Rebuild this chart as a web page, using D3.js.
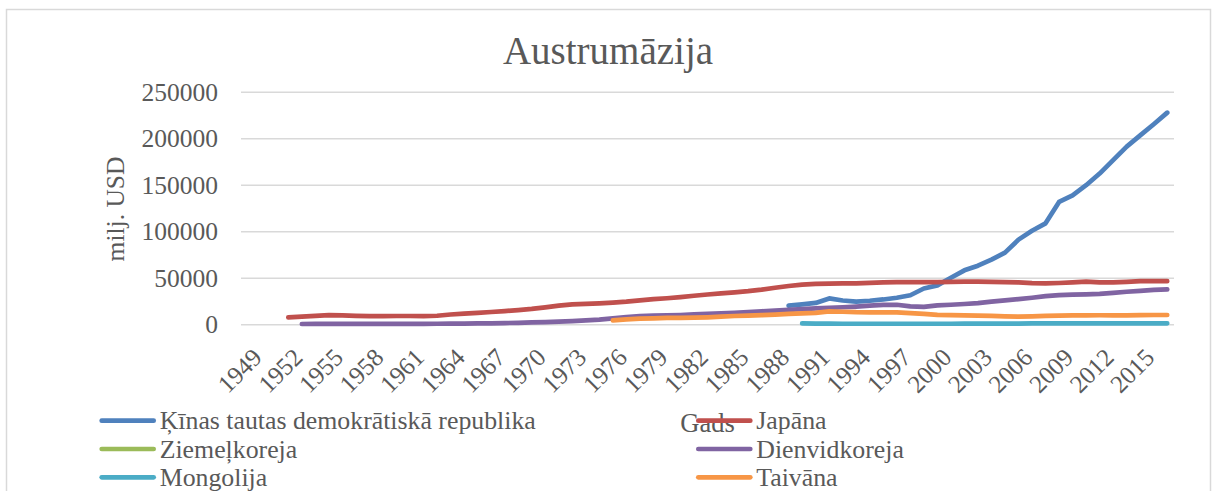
<!DOCTYPE html>
<html>
<head>
<meta charset="utf-8">
<script src="https://cdn.jsdelivr.net/npm/d3@7"></script>
<style>
  html, body { margin: 0; padding: 0; background: #ffffff; }
  svg { display: block; }
</style>
</head>
<body>
<svg id="chart" width="1219" height="491"></svg>
<script>
// ---------- DATA ----------
const years = [1949,1950,1951,1952,1953,1954,1955,1956,1957,1958,1959,1960,1961,1962,1963,1964,1965,1966,1967,1968,1969,1970,1971,1972,1973,1974,1975,1976,1977,1978,1979,1980,1981,1982,1983,1984,1985,1986,1987,1988,1989,1990,1991,1992,1993,1994,1995,1996,1997,1998,1999,2000,2001,2002,2003,2004,2005,2006,2007,2008,2009,2010,2011,2012,2013,2014,2015,2016,2017];
const xTickLabels = [1949,1952,1955,1958,1961,1964,1967,1970,1973,1976,1979,1982,1985,1988,1991,1994,1997,2000,2003,2006,2009,2012,2015];
const yTickValues = [0,50000,100000,150000,200000,250000];

const seriesNames = ["Ķīnas tautas demokrātiskā republika","Japāna","Ziemeļkoreja","Dienvidkoreja","Mongolija","Taivāna"];

const chinaStart = 1989;
const chinaValues = [20000,21500,23000,27800,25600,24300,25300,26700,28500,31200,
  38500,41800,50000,58000,63000,69500,77000,91000,100500,108500,
  131500,138500,149500,162000,176500,191000,203000,215000,227500];

const japanStart = 1952;
const japanValues = [7500,8200,9000,9800,9500,9000,8800,8800,8900,8900,
  8700,9200,10500,11500,12300,13200,14200,15200,16500,18200,
  20000,21500,22000,22500,23300,24300,25800,27000,28000,29300,
  30700,32000,33200,34400,35600,37200,39300,41200,42600,43400,
  43800,43900,43900,44600,45100,45300,45400,45400,45400,45600,
  45800,45800,45700,45400,45000,44300,44000,44400,45000,45800,
  45000,45000,45600,46300,46500,46300];

const northKoreaStart = 1990;
const northKoreaValues = [];

const southKoreaStart = 1953;
const southKoreaValues = [300,350,400,400,450,450,450,500,500,550,
  600,650,700,900,1100,1300,1600,2000,2400,2800,
  3500,4200,5000,6400,7800,8800,9300,9600,10000,10700,
  11200,11800,12400,13200,14000,14800,15600,16400,17100,17700,
  18300,19000,20000,20800,21000,19200,18800,20300,21000,21800,
  22800,24300,25800,27000,28500,30200,31300,31800,32200,32800,
  33800,35000,36000,37000,37600];

const mongoliaStart = 1990;
const mongoliaValues = [900,800,700,600,600,600,600,600,600,600,
  600,600,700,700,700,800,800,900,900,900,
  1000,1000,1000,1000,1000,1000,1000,1000];

const taiwanStart = 1976;
const taiwanValues = [4300,5200,6000,6400,6800,7000,7100,7500,8200,8900,
  9400,9800,10500,11200,11800,12300,13800,13500,13000,12900,
  12900,12800,12000,11300,10200,9800,9500,9300,9000,8600,
  8300,8600,9000,9400,9500,9600,9700,9600,9500,9900,
  10000,10000];

const seriesColors = ["#4F81BD","#C0504D","#9BBB59","#8064A2","#4BACC6","#F79646"];

// ---------- BUILD ----------
function toPoints(start, values) {
  return values.map((v, i) => ({ year: start + i, value: v }));
}
const series = [
  toPoints(chinaStart, chinaValues),
  toPoints(japanStart, japanValues),
  toPoints(northKoreaStart, northKoreaValues),
  toPoints(southKoreaStart, southKoreaValues),
  toPoints(mongoliaStart, mongoliaValues),
  toPoints(taiwanStart, taiwanValues)
].map((pts, i) => ({ name: seriesNames[i], color: seriesColors[i], points: pts }));

const FONT = "'Liberation Serif', 'DejaVu Serif', serif";
const TEXT = "#595959";
const GRID = "#D9D9D9";

const svg = d3.select("#chart");

// chart frame
svg.append("rect")
  .attr("x", 6.5).attr("y", 9.5)
  .attr("width", 1204).attr("height", 500)
  .attr("fill", "#ffffff")
  .attr("stroke", GRID).attr("stroke-width", 1.5);

const plot = { left: 241, right: 1174, top: 91.7, bottom: 324.3 };

const x = d3.scaleBand().domain(years).range([plot.left, plot.right]).padding(0);
const xc = yr => x(yr) + x.bandwidth() / 2;
const y = d3.scaleLinear().domain([0, 250000]).range([plot.bottom, plot.top]);

// gridlines
const yAxisGrid = d3.axisLeft(y).tickValues(yTickValues).tickSize(-(plot.right - plot.left)).tickFormat("");
const gGrid = svg.append("g").attr("transform", `translate(${plot.left},0)`).call(yAxisGrid);
gGrid.select(".domain").remove();
gGrid.selectAll("line").attr("stroke", GRID).attr("stroke-width", 1.5);

// y tick labels
const yAxis = d3.axisLeft(y).tickValues(yTickValues).tickSize(0).tickPadding(0).tickFormat(d3.format("d"));
const gY = svg.append("g").attr("transform", `translate(218,0)`).call(yAxis);
gY.select(".domain").remove();
gY.selectAll("text")
  .attr("fill", TEXT)
  .attr("font-family", FONT)
  .attr("font-size", "25.5px")
  .attr("dy", "0.34em");

// x tick labels
const xAxis = d3.axisBottom(x).tickValues(xTickLabels).tickSize(0).tickPadding(0);
const gX = svg.append("g").attr("transform", `translate(0,${plot.bottom})`).call(xAxis);
gX.select(".domain").remove();
gX.selectAll("text")
  .attr("fill", TEXT)
  .attr("font-family", FONT)
  .attr("font-size", "25px")
  .attr("text-anchor", "end")
  .attr("y", 0)
  .attr("dy", "0.66em")
  .attr("transform", "translate(4,23) rotate(-45)");

// lines
const line = d3.line()
  .defined(d => d.value != null)
  .x(d => xc(d.year))
  .y(d => y(d.value));

svg.append("g").selectAll("path")
  .data(series.filter(s => s.points.length > 0))
  .join("path")
  .attr("d", s => line(s.points))
  .attr("fill", "none")
  .attr("stroke", s => s.color)
  .attr("stroke-width", 4.7)
  .attr("stroke-linecap", "round")
  .attr("stroke-linejoin", "round");

// title
svg.append("text")
  .attr("x", 608).attr("y", 64)
  .attr("text-anchor", "middle")
  .attr("fill", TEXT)
  .attr("font-family", FONT)
  .attr("font-size", "39px")
  .text("Austrumāzija");

// y axis title
svg.append("text")
  .attr("transform", "translate(124,209) rotate(-90)")
  .attr("text-anchor", "middle")
  .attr("fill", TEXT)
  .attr("font-family", FONT)
  .attr("font-size", "25.5px")
  .text("milj. USD");

// x axis title
svg.append("text")
  .attr("x", 707.5).attr("y", 431.7)
  .attr("text-anchor", "middle")
  .attr("fill", TEXT)
  .attr("font-family", FONT)
  .attr("font-size", "26.5px")
  .text("Gads");

// legend
const legendPos = [
  { sx: 101.7, ty: 420.7 }, { sx: 698.3, ty: 420.7 },
  { sx: 101.7, ty: 449 },   { sx: 698.3, ty: 449 },
  { sx: 101.7, ty: 477.3 }, { sx: 698.3, ty: 477.3 }
];
const gLeg = svg.append("g");
series.forEach((s, i) => {
  const p = legendPos[i];
  gLeg.append("line")
    .attr("x1", p.sx).attr("x2", p.sx + 52)
    .attr("y1", p.ty).attr("y2", p.ty)
    .attr("stroke", s.color).attr("stroke-width", 4.7)
    .attr("stroke-linecap", "round");
  gLeg.append("text")
    .attr("x", p.sx + 58).attr("y", p.ty)
    .attr("dy", "0.33em")
    .attr("fill", TEXT)
    .attr("font-family", FONT)
    .attr("font-size", "25.8px")
    .text(s.name);
});
</script>
</body>
</html>
